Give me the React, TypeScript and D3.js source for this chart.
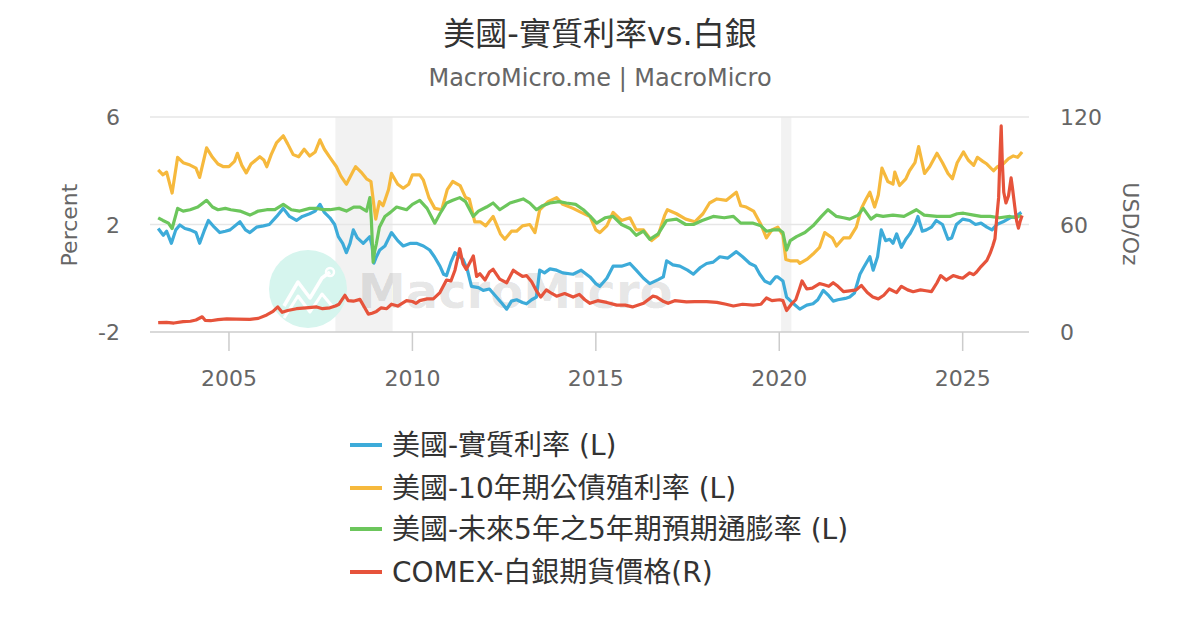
import { useEffect, useRef } from "react";
import * as d3 from "d3";

type Pt = [number, number];

// axis ticks and shaded periods
const xTicks = [2005, 2010, 2015, 2020, 2025];
const leftTicks = [-2, 2, 6];
const rightTicks = [0, 60, 120];
const recessions: Pt[] = [
  [2007.9, 2009.46],
  [2020.05, 2020.33],
];

// [decimal year, value]
const realRate: Pt[] = [
  [2003.07, 1.85], [2003.21, 1.6], [2003.3, 1.75], [2003.43, 1.3], [2003.55, 1.8], [2003.66, 1.98],
  [2003.8, 1.85], [2003.94, 1.8], [2004.1, 1.7], [2004.2, 1.3], [2004.32, 1.75], [2004.44, 2.15],
  [2004.6, 1.9], [2004.75, 1.7], [2004.9, 1.75], [2005.03, 1.8], [2005.3, 2.1], [2005.45, 1.8],
  [2005.57, 1.7], [2005.75, 1.9], [2005.94, 1.95], [2006.1, 2.0], [2006.3, 2.3], [2006.48, 2.6],
  [2006.65, 2.3], [2006.84, 2.15], [2007.0, 2.3], [2007.2, 2.4], [2007.35, 2.5], [2007.48, 2.75],
  [2007.6, 2.45], [2007.75, 2.25], [2007.88, 2.0], [2007.98, 1.55], [2008.1, 1.3], [2008.2, 0.95],
  [2008.3, 1.3], [2008.39, 1.8], [2008.5, 1.5], [2008.66, 1.3], [2008.84, 1.55], [2008.9, 1.2],
  [2008.95, 0.56], [2009.02, 0.8], [2009.11, 1.05], [2009.25, 1.2], [2009.43, 1.7], [2009.6, 1.4],
  [2009.75, 1.2], [2009.95, 1.3], [2010.11, 1.3], [2010.3, 1.2], [2010.47, 1.05], [2010.6, 0.8],
  [2010.75, 0.45], [2010.85, 0.15], [2010.93, 0.1], [2011.05, 0.6], [2011.16, 0.95], [2011.38, 0.7],
  [2011.5, 0.3], [2011.61, -0.3], [2011.8, -0.35], [2011.93, -0.45], [2012.1, -0.4], [2012.29, -0.7],
  [2012.45, -0.95], [2012.57, -1.15], [2012.7, -0.85], [2012.84, -0.8], [2013.0, -0.9], [2013.11, -0.95],
  [2013.25, -0.8], [2013.38, -0.7], [2013.47, 0.3], [2013.6, 0.2], [2013.75, 0.35], [2013.93, 0.3],
  [2014.1, 0.2], [2014.38, 0.15], [2014.6, 0.3], [2014.84, 0.05], [2015.0, -0.2], [2015.11, -0.3],
  [2015.3, 0.0], [2015.47, 0.45], [2015.7, 0.45], [2015.93, 0.55], [2016.1, 0.3], [2016.3, 0.0],
  [2016.47, -0.2], [2016.7, -0.05], [2016.84, 0.05], [2016.93, 0.65], [2017.1, 0.5], [2017.29, 0.45],
  [2017.5, 0.3], [2017.66, 0.15], [2017.85, 0.4], [2018.02, 0.55], [2018.2, 0.6], [2018.38, 0.8],
  [2018.6, 0.75], [2018.83, 0.99], [2019.0, 0.8], [2019.2, 0.55], [2019.35, 0.45], [2019.47, 0.15],
  [2019.6, -0.1], [2019.75, -0.2], [2019.9, 0.05], [2019.96, 0.05], [2020.1, -0.1], [2020.2, -0.7],
  [2020.35, -0.9], [2020.56, -1.15], [2020.75, -1.0], [2020.92, -0.95], [2021.05, -0.8], [2021.2, -0.45],
  [2021.35, -0.65], [2021.47, -0.85], [2021.6, -0.8], [2021.8, -0.75], [2021.92, -0.7], [2022.05, -0.55],
  [2022.2, 0.15], [2022.3, 0.4], [2022.47, 0.8], [2022.56, 0.3], [2022.68, 0.8], [2022.78, 1.8],
  [2022.9, 1.4], [2023.01, 1.45], [2023.1, 1.3], [2023.2, 1.65], [2023.33, 1.15], [2023.45, 1.45],
  [2023.56, 1.65], [2023.7, 2.0], [2023.78, 2.3], [2023.9, 1.75], [2024.01, 1.8], [2024.15, 1.9],
  [2024.28, 2.15], [2024.45, 2.0], [2024.6, 1.45], [2024.7, 1.5], [2024.83, 2.0], [2025.0, 2.2],
  [2025.19, 2.15], [2025.35, 2.0], [2025.5, 2.05], [2025.66, 1.9], [2025.8, 1.8], [2025.93, 2.0],
  [2026.1, 2.1], [2026.29, 2.25], [2026.45, 2.3], [2026.6, 2.45],
];

const yield10: Pt[] = [
  [2003.07, 4.03], [2003.2, 3.85], [2003.3, 3.95], [2003.45, 3.17], [2003.6, 4.5], [2003.75, 4.3],
  [2003.94, 4.21], [2004.1, 4.1], [2004.2, 3.75], [2004.39, 4.85], [2004.55, 4.5], [2004.7, 4.25],
  [2004.85, 4.15], [2005.0, 4.15], [2005.15, 4.35], [2005.23, 4.65], [2005.35, 4.2], [2005.47, 3.92],
  [2005.6, 4.25], [2005.84, 4.52], [2005.95, 4.4], [2006.03, 4.15], [2006.15, 4.6], [2006.3, 5.05],
  [2006.48, 5.3], [2006.6, 5.0], [2006.75, 4.6], [2006.9, 4.52], [2007.05, 4.8], [2007.2, 4.55],
  [2007.35, 4.7], [2007.48, 5.15], [2007.6, 4.8], [2007.75, 4.5], [2007.93, 4.15], [2008.05, 3.8],
  [2008.2, 3.5], [2008.39, 4.0], [2008.45, 4.15], [2008.6, 3.95], [2008.75, 3.7], [2008.87, 3.6],
  [2008.96, 2.6], [2009.0, 2.2], [2009.1, 2.85], [2009.2, 2.7], [2009.35, 3.3], [2009.43, 3.9],
  [2009.6, 3.5], [2009.75, 3.35], [2009.9, 3.5], [2010.0, 3.85], [2010.2, 3.85], [2010.3, 3.65],
  [2010.45, 3.0], [2010.61, 2.6], [2010.8, 2.55], [2010.95, 3.3], [2011.1, 3.6], [2011.3, 3.45],
  [2011.45, 3.0], [2011.55, 2.95], [2011.7, 2.1], [2011.85, 2.1], [2012.0, 1.95], [2012.2, 2.3],
  [2012.4, 1.65], [2012.52, 1.45], [2012.7, 1.75], [2012.84, 1.75], [2013.0, 1.95], [2013.2, 2.0],
  [2013.34, 1.7], [2013.47, 2.55], [2013.7, 2.85], [2013.93, 3.0], [2014.1, 2.75], [2014.38, 2.6],
  [2014.6, 2.45], [2014.84, 2.3], [2015.0, 1.8], [2015.11, 1.7], [2015.3, 1.95], [2015.47, 2.45],
  [2015.7, 2.15], [2015.93, 2.25], [2016.1, 1.8], [2016.3, 1.8], [2016.52, 1.4], [2016.7, 1.6],
  [2016.88, 2.35], [2016.95, 2.55], [2017.2, 2.4], [2017.45, 2.2], [2017.7, 2.1], [2017.92, 2.4],
  [2018.1, 2.8], [2018.3, 2.95], [2018.56, 2.9], [2018.83, 3.2], [2018.95, 2.7], [2019.1, 2.65],
  [2019.3, 2.5], [2019.5, 2.0], [2019.65, 1.5], [2019.8, 1.8], [2019.96, 1.9], [2020.1, 1.6],
  [2020.18, 0.7], [2020.3, 0.65], [2020.5, 0.65], [2020.56, 0.55], [2020.75, 0.7], [2020.92, 0.9],
  [2021.1, 1.15], [2021.24, 1.7], [2021.45, 1.5], [2021.56, 1.2], [2021.75, 1.5], [2021.92, 1.5],
  [2022.1, 1.9], [2022.24, 2.6], [2022.35, 2.9], [2022.47, 3.2], [2022.6, 2.65], [2022.7, 3.1],
  [2022.8, 4.1], [2022.96, 3.6], [2023.1, 3.5], [2023.15, 3.95], [2023.28, 3.45], [2023.45, 3.7],
  [2023.55, 4.0], [2023.7, 4.3], [2023.8, 4.9], [2023.96, 3.9], [2024.1, 4.15], [2024.3, 4.65],
  [2024.45, 4.3], [2024.6, 3.9], [2024.72, 3.7], [2024.85, 4.3], [2025.02, 4.7], [2025.15, 4.4],
  [2025.3, 4.2], [2025.4, 4.5], [2025.55, 4.35], [2025.66, 4.25], [2025.84, 4.0], [2025.95, 4.15],
  [2026.1, 4.25], [2026.25, 4.45], [2026.38, 4.55], [2026.5, 4.5], [2026.62, 4.7],
];

const breakeven: Pt[] = [
  [2003.07, 2.25], [2003.2, 2.15], [2003.35, 2.05], [2003.45, 1.85], [2003.6, 2.6], [2003.75, 2.5],
  [2003.94, 2.55], [2004.15, 2.65], [2004.39, 2.9], [2004.55, 2.65], [2004.7, 2.55], [2004.9, 2.6],
  [2005.05, 2.55], [2005.3, 2.5], [2005.57, 2.35], [2005.8, 2.5], [2006.03, 2.55], [2006.25, 2.55],
  [2006.48, 2.75], [2006.7, 2.55], [2006.93, 2.5], [2007.2, 2.6], [2007.4, 2.6], [2007.57, 2.55],
  [2007.75, 2.55], [2008.0, 2.6], [2008.2, 2.5], [2008.4, 2.65], [2008.57, 2.65], [2008.75, 2.5],
  [2008.84, 3.0], [2008.88, 2.2], [2008.93, 0.6], [2008.97, 1.0], [2009.02, 1.3], [2009.1, 1.9],
  [2009.25, 2.3], [2009.4, 2.45], [2009.57, 2.65], [2009.84, 2.55], [2010.0, 2.75], [2010.2, 2.9],
  [2010.4, 2.6], [2010.61, 2.05], [2010.75, 2.4], [2010.93, 2.8], [2011.1, 2.9], [2011.29, 3.0],
  [2011.45, 2.85], [2011.66, 2.3], [2011.8, 2.5], [2012.02, 2.65], [2012.2, 2.8], [2012.38, 2.55],
  [2012.66, 2.8], [2013.02, 2.95], [2013.2, 2.8], [2013.38, 2.55], [2013.55, 2.7], [2013.75, 2.8],
  [2014.0, 2.85], [2014.2, 2.8], [2014.45, 2.75], [2014.66, 2.55], [2014.85, 2.3], [2015.02, 2.05],
  [2015.25, 2.25], [2015.47, 2.3], [2015.7, 2.0], [2015.93, 1.85], [2016.1, 1.6], [2016.3, 1.75],
  [2016.47, 1.45], [2016.7, 1.65], [2016.93, 2.15], [2017.2, 2.2], [2017.45, 2.0], [2017.66, 2.0],
  [2017.9, 2.15], [2018.2, 2.3], [2018.5, 2.25], [2018.75, 2.3], [2018.95, 2.05], [2019.29, 2.05],
  [2019.5, 1.95], [2019.65, 1.75], [2019.85, 1.8], [2020.01, 1.8], [2020.1, 1.7], [2020.2, 1.05],
  [2020.3, 1.4], [2020.47, 1.55], [2020.7, 1.7], [2020.92, 1.95], [2021.15, 2.3], [2021.33, 2.55],
  [2021.56, 2.3], [2021.75, 2.25], [2021.92, 2.2], [2022.15, 2.35], [2022.29, 2.6], [2022.5, 2.2],
  [2022.65, 2.35], [2022.83, 2.3], [2023.1, 2.35], [2023.4, 2.3], [2023.74, 2.55], [2023.95, 2.35],
  [2024.3, 2.3], [2024.65, 2.3], [2024.85, 2.4], [2025.02, 2.42], [2025.3, 2.35], [2025.5, 2.3],
  [2025.75, 2.3], [2026.0, 2.25], [2026.29, 2.3], [2026.45, 2.25], [2026.6, 2.35],
];

const silver: Pt[] = [
  [2003.07, 5.2], [2003.3, 5.4], [2003.5, 5.0], [2003.75, 5.8], [2003.95, 6.0], [2004.1, 6.7],
  [2004.27, 8.5], [2004.35, 6.5], [2004.5, 6.3], [2004.7, 6.9], [2004.94, 7.3], [2005.2, 7.2],
  [2005.57, 7.0], [2005.8, 7.6], [2006.03, 9.5], [2006.2, 11.5], [2006.33, 14.0], [2006.45, 11.0],
  [2006.6, 12.0], [2006.84, 13.0], [2007.1, 13.5], [2007.39, 14.0], [2007.55, 13.0], [2007.75, 13.5],
  [2007.9, 14.5], [2008.0, 15.5], [2008.16, 20.5], [2008.25, 17.5], [2008.39, 17.2], [2008.57, 18.2],
  [2008.7, 13.5], [2008.8, 10.0], [2008.9, 10.5], [2009.02, 11.5], [2009.15, 13.5], [2009.3, 13.0],
  [2009.43, 15.5], [2009.6, 14.5], [2009.84, 17.5], [2010.0, 17.0], [2010.1, 16.0], [2010.2, 17.5],
  [2010.4, 18.5], [2010.57, 18.5], [2010.75, 22.0], [2010.93, 29.0], [2011.05, 28.5], [2011.16, 34.5],
  [2011.29, 46.5], [2011.38, 38.0], [2011.47, 35.0], [2011.6, 40.0], [2011.66, 42.5], [2011.75, 31.0],
  [2011.84, 32.5], [2011.98, 29.0], [2012.1, 33.5], [2012.2, 35.0], [2012.38, 29.5], [2012.57, 27.5],
  [2012.75, 34.5], [2012.85, 33.0], [2013.0, 31.0], [2013.11, 31.5], [2013.25, 28.0], [2013.38, 23.0],
  [2013.5, 19.5], [2013.65, 23.5], [2013.8, 21.5], [2013.93, 20.0], [2014.15, 21.5], [2014.38, 19.5],
  [2014.55, 21.0], [2014.7, 18.0], [2014.84, 16.0], [2015.05, 17.5], [2015.3, 16.5], [2015.57, 15.0],
  [2015.8, 15.0], [2016.0, 14.0], [2016.3, 16.0], [2016.55, 20.0], [2016.66, 19.5], [2016.85, 17.0],
  [2016.97, 16.0], [2017.15, 17.5], [2017.47, 16.8], [2017.7, 17.0], [2018.02, 17.0], [2018.3, 16.5],
  [2018.55, 15.5], [2018.75, 14.5], [2019.0, 15.5], [2019.29, 15.0], [2019.5, 15.5], [2019.65, 19.0],
  [2019.8, 17.5], [2020.01, 18.0], [2020.1, 17.5], [2020.2, 12.0], [2020.33, 15.5], [2020.45, 18.0],
  [2020.55, 24.0], [2020.62, 28.5], [2020.75, 24.0], [2020.9, 24.5], [2021.1, 27.0], [2021.2, 26.5],
  [2021.35, 25.5], [2021.47, 27.5], [2021.6, 25.5], [2021.75, 22.5], [2021.92, 23.0], [2022.1, 23.5],
  [2022.24, 26.0], [2022.4, 22.0], [2022.55, 19.5], [2022.7, 18.5], [2022.85, 20.5], [2023.0, 24.0],
  [2023.2, 22.0], [2023.33, 25.5], [2023.5, 23.5], [2023.65, 22.5], [2023.85, 23.5], [2024.0, 23.0],
  [2024.15, 22.5], [2024.3, 27.5], [2024.4, 31.5], [2024.55, 29.0], [2024.74, 31.5], [2024.9, 30.5],
  [2025.0, 30.0], [2025.19, 33.0], [2025.3, 32.0], [2025.38, 33.5], [2025.5, 36.5], [2025.66, 40.0],
  [2025.75, 44.0], [2025.82, 48.0], [2025.88, 52.0], [2025.93, 64.0], [2025.98, 75.0], [2026.02, 100.0],
  [2026.05, 115.0], [2026.08, 95.0], [2026.12, 78.0], [2026.18, 72.0], [2026.25, 76.0], [2026.32, 86.0],
  [2026.36, 80.0], [2026.42, 70.0], [2026.47, 62.0], [2026.52, 58.0], [2026.57, 62.0], [2026.62, 65.0],
];

const seriesList = [
  { name: "美國-實質利率 (L)", color: "#3dabd9", data: realRate, axis: "L" },
  { name: "美國-10年期公債殖利率 (L)", color: "#f6b93d", data: yield10, axis: "L" },
  { name: "美國-未來5年之5年期預期通膨率 (L)", color: "#6cc65c", data: breakeven, axis: "L" },
  { name: "COMEX-白銀期貨價格(R)", color: "#e6533b", data: silver, axis: "R" },
];

const FONT = "'DejaVu Sans', 'Noto Sans CJK TC', sans-serif";

export default function App() {
  const svgRef = useRef<SVGSVGElement>(null);
  const width = 1200;
  const height = 630;

  useEffect(() => {
    if (!svgRef.current) return;
    const svg = d3.select(svgRef.current);
    svg.selectAll("*").remove();

    const left = 150, right = 1029, top = 117, bottom = 332;

    const x = d3.scaleLinear().domain([2002.847, 2026.808]).range([left, right]);
    const yL = d3.scaleLinear().domain([-2, 6]).range([bottom, top]);
    const yR = d3.scaleLinear().domain([0, 120]).range([bottom, top]);

    // title
    svg.append("text")
      .attr("x", 600).attr("y", 45)
      .attr("text-anchor", "middle")
      .attr("font-size", 32).attr("fill", "#333")
      .text("美國-實質利率vs.白銀");
    svg.append("text")
      .attr("x", 600).attr("y", 86)
      .attr("text-anchor", "middle")
      .attr("font-size", 24).attr("fill", "#666")
      .text("MacroMicro.me | MacroMicro");

    // recession bands
    svg.append("g").selectAll("rect")
      .data(recessions)
      .enter()
      .append("rect")
      .attr("x", d => x(d[0]))
      .attr("width", d => x(d[1]) - x(d[0]))
      .attr("y", top)
      .attr("height", bottom - top)
      .attr("fill", "#f2f2f2");

    // gridlines
    svg.append("g").selectAll("line")
      .data(leftTicks.filter(t => t !== -2))
      .enter()
      .append("line")
      .attr("x1", left).attr("x2", right)
      .attr("y1", d => yL(d)).attr("y2", d => yL(d))
      .attr("stroke", "#e6e6e6").attr("stroke-width", 1.5);

    // watermark
    const wm = svg.append("g");
    wm.append("circle").attr("cx", 308).attr("cy", 289).attr("r", 39).attr("fill", "#d6f5ee");
    wm.append("path")
      .attr("d", "M284,306 L298,282 L310,298 L322,278 L330,272")
      .attr("fill", "none").attr("stroke", "#fff").attr("stroke-width", 3.5)
      .attr("stroke-linejoin", "round");
    wm.append("path")
      .attr("d", "M284,318 L298,296 L310,312 L322,294 L332,306")
      .attr("fill", "none").attr("stroke", "#fff").attr("stroke-width", 3)
      .attr("stroke-linejoin", "round");
    wm.append("circle").attr("cx", 330).attr("cy", 272).attr("r", 4)
      .attr("fill", "none").attr("stroke", "#fff").attr("stroke-width", 2.5);
    wm.append("text")
      .attr("x", 358).attr("y", 308)
      .attr("font-size", 48).attr("font-weight", "bold")
      .attr("fill", "#000").attr("fill-opacity", 0.11)
      .text("MacroMicro");

    // x axis
    svg.append("line")
      .attr("x1", left).attr("x2", right)
      .attr("y1", bottom).attr("y2", bottom)
      .attr("stroke", "#ccc").attr("stroke-width", 1.5);
    const xa = svg.append("g");
    xa.selectAll("line")
      .data(xTicks)
      .enter()
      .append("line")
      .attr("x1", d => x(d)).attr("x2", d => x(d))
      .attr("y1", bottom).attr("y2", bottom + 19)
      .attr("stroke", "#ccc").attr("stroke-width", 1.5);
    xa.selectAll("text")
      .data(xTicks)
      .enter()
      .append("text")
      .attr("x", d => x(d)).attr("y", 386)
      .attr("text-anchor", "middle")
      .attr("font-size", 22).attr("fill", "#666")
      .text(d => d3.format("d")(d));

    // y axes
    svg.append("g").selectAll("text")
      .data(leftTicks)
      .enter()
      .append("text")
      .attr("x", 120).attr("y", d => yL(d) + 8)
      .attr("text-anchor", "end")
      .attr("font-size", 22).attr("fill", "#666")
      .text(d => String(d));
    svg.append("g").selectAll("text")
      .data(rightTicks)
      .enter()
      .append("text")
      .attr("x", 1060).attr("y", d => yR(d) + 8)
      .attr("text-anchor", "start")
      .attr("font-size", 22).attr("fill", "#666")
      .text(d => String(d));

    svg.append("text")
      .attr("transform", "translate(77,225) rotate(-90)")
      .attr("text-anchor", "middle")
      .attr("font-size", 22).attr("fill", "#666")
      .text("Percent");
    svg.append("text")
      .attr("transform", "translate(1123,224) rotate(90)")
      .attr("text-anchor", "middle")
      .attr("font-size", 22).attr("fill", "#666")
      .text("USD/Oz");

    // lines
    const lines = svg.append("g");
    seriesList.forEach(s => {
      const y = s.axis === "L" ? yL : yR;
      const line = d3.line<Pt>().x(d => x(d[0])).y(d => y(d[1]));
      lines.append("path")
        .datum(s.data)
        .attr("fill", "none")
        .attr("stroke", s.color)
        .attr("stroke-width", 3.2)
        .attr("stroke-linejoin", "round")
        .attr("d", line);
    });

    // legend
    const lg = svg.append("g");
    const rowY = [445, 488, 529, 572];
    seriesList.forEach((s, i) => {
      lg.append("line")
        .attr("x1", 350).attr("x2", 382)
        .attr("y1", rowY[i]).attr("y2", rowY[i])
        .attr("stroke", s.color).attr("stroke-width", 4);
      lg.append("text")
        .attr("x", 392).attr("y", rowY[i] + 10)
        .attr("font-size", 28).attr("fill", "#333")
        .text(s.name);
    });
  }, []);

  return (
    <div style={{ position: "absolute", left: 0, top: 0 }}>
      <svg ref={svgRef} width={width} height={height} style={{ fontFamily: FONT, display: "block" }}></svg>
    </div>
  );
}
